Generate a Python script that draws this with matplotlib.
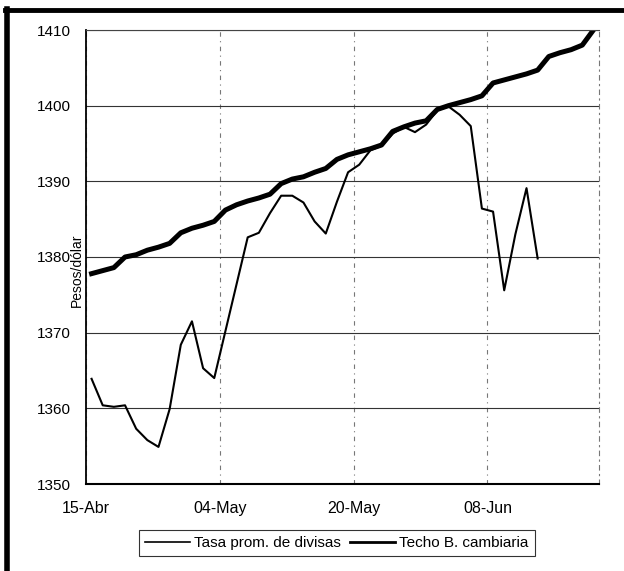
import matplotlib
matplotlib.use("Agg")
import matplotlib.pyplot as plt
from matplotlib.lines import Line2D

plt.rcParams['font.family'] = ['Liberation Sans', 'DejaVu Sans']

# categorias (dias habiles) y etiquetas del eje
tick_labels = ['15-Abr', '04-May', '20-May', '08-Jun']
tick_every = 12

tasa = [1363.9, 1360.4, 1360.2, 1360.4, 1357.3, 1355.8, 1354.9, 1359.9, 1368.4, 1371.5,
        1365.3, 1364.0, 1370.2, 1376.4, 1382.6, 1383.2, 1385.8, 1388.1, 1388.1, 1387.2,
        1384.7, 1383.1, 1387.3, 1391.2, 1392.2, 1394.1, 1394.7, 1396.3, 1397.2, 1396.5,
        1397.5, 1399.4, 1399.9, 1398.8, 1397.3, 1386.4, 1386.0, 1375.6, 1383.0, 1389.1,
        1379.8]

techo = [1377.8, 1378.2, 1378.6, 1380.0, 1380.3, 1380.9, 1381.3, 1381.8, 1383.2, 1383.8,
         1384.2, 1384.7, 1386.2, 1386.9, 1387.4, 1387.8, 1388.3, 1389.7, 1390.3, 1390.6,
         1391.2, 1391.7, 1392.9, 1393.5, 1393.9, 1394.3, 1394.8, 1396.6, 1397.2, 1397.7,
         1398.0, 1399.5, 1400.0, 1400.4, 1400.8, 1401.3, 1403.0, 1403.4, 1403.8, 1404.2,
         1404.7, 1406.5, 1407.0, 1407.4, 1408.0, 1410.0]

W, H = 624, 571
fig = plt.figure(figsize=(W / 100, H / 100), dpi=100)
ax = fig.add_axes([86 / W, 1 - 484 / H, (599 - 86) / W, (484 - 30) / H])

x_tasa = list(range(len(tasa)))
x_techo = list(range(len(techo)))
ax.plot(x_tasa, tasa, color='black', lw=1.5, label='Tasa prom. de divisas', zorder=3)
ax.plot(x_techo, techo, color='black', lw=3.6, label='Techo B. cambiaria', zorder=2,
        solid_joinstyle='round')

ax.set_xlim(-0.5, len(techo) - 0.5)
ax.set_ylim(1350, 1410)
ax.set_yticks(range(1350, 1411, 10))
ticks = [-0.5 + tick_every * k for k in range(len(tick_labels))]
ax.set_xticks(ticks)
ax.set_xticklabels(tick_labels)
ax.tick_params(axis='both', length=0, labelsize=11)
ax.tick_params(axis='x', pad=12, labelsize=11.5)
ax.tick_params(axis='y', pad=11)

# cuadricula
ax.grid(axis='y', color='#333333', lw=0.8, ls='-')
ax.grid(axis='x', color='#777777', lw=0.8, ls=(0, (4, 4, 1, 4)))
ax.spines['left'].set_linewidth(1.3)
ax.spines['bottom'].set_linewidth(1.5)
ax.spines['top'].set_linewidth(0.8)
ax.spines['top'].set_color('#444444')
ax.spines['right'].set_linewidth(0.8)
ax.spines['right'].set_color('#777777')
ax.spines['right'].set_linestyle((0, (4, 4, 1, 4)))

fig.text(77 / W, 1 - 270 / H, 'Pesos/dólar', rotation=90, ha='center', va='center', fontsize=10)

leg = fig.legend(loc='center', bbox_to_anchor=(337 / W, 1 - 543 / H), ncol=2,
                 fontsize=11, frameon=True, fancybox=False, handlelength=2.9,
                 handletextpad=0.3, columnspacing=0.6, borderpad=0.4)
leg.get_frame().set_edgecolor('black')
leg.get_frame().set_linewidth(0.8)
leg.get_lines()[0].set_linewidth(1.2)
leg.get_lines()[1].set_linewidth(2.0)

# marco exterior
fig.add_artist(Line2D([7 / W, 7 / W], [0, 1 - 9 / H], transform=fig.transFigure,
                      color='black', lw=4))
fig.add_artist(Line2D([5 / W, 1], [1 - 10 / H, 1 - 10 / H], transform=fig.transFigure,
                      color='black', lw=3.5))

fig.savefig('out.png', dpi=100)
